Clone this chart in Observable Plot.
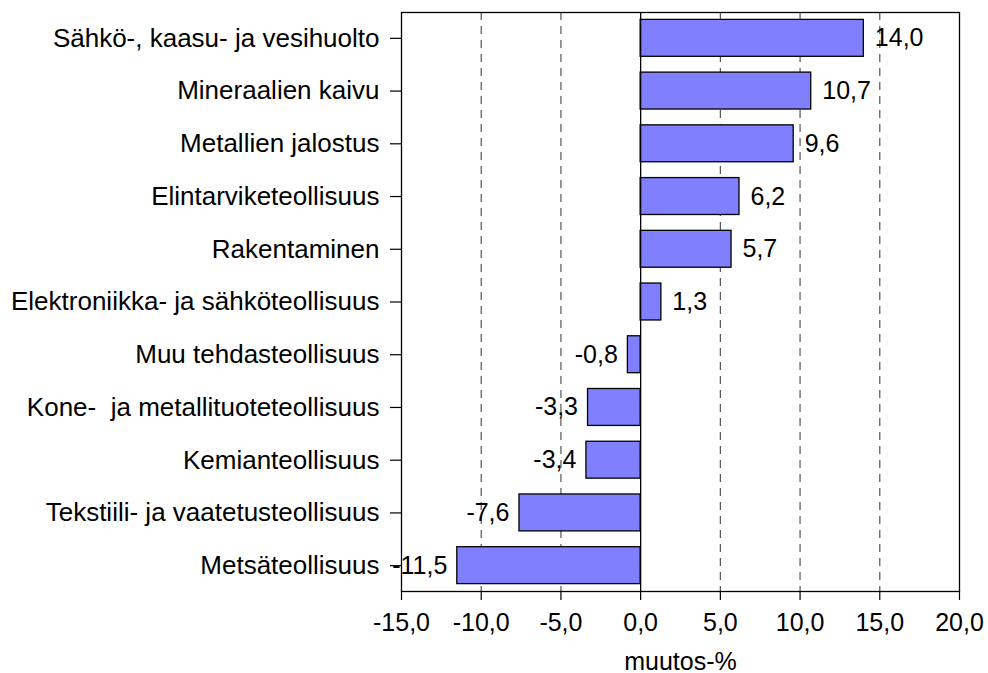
<!DOCTYPE html>
<html><head><meta charset="utf-8">
<script src="https://cdn.jsdelivr.net/npm/d3@7"></script>
<script src="https://cdn.jsdelivr.net/npm/@observablehq/plot@0.6"></script>
<style>
body{margin:0;background:#fff;}
svg{font-family:"Liberation Sans",Arial,sans-serif;}
</style>
</head><body>
<div id="chart"></div>
<script>
const categories = [
  "Sähkö-, kaasu- ja vesihuolto",
  "Mineraalien kaivu",
  "Metallien jalostus",
  "Elintarviketeollisuus",
  "Rakentaminen",
  "Elektroniikka- ja sähköteollisuus",
  "Muu tehdasteollisuus",
  "Kone-  ja metallituoteteollisuus",
  "Kemianteollisuus",
  "Tekstiili- ja vaatetusteollisuus",
  "Metsäteollisuus"
];
const values = [14.0, 10.7, 9.6, 6.2, 5.7, 1.3, -0.8, -3.3, -3.4, -7.6, -11.5];
const xTicks = [-15, -10, -5, 0, 5, 10, 15, 20];
const gridTicks = [-10, -5, 5, 10, 15];
const xLabel = "muutos-%";

const data = categories.map((c, i) => ({cat: c, value: values[i]}));
const fmt = v => v.toFixed(1).replace(".", ",");
const FS = 25;

const chart = Plot.plot({
  width: 988,
  height: 673,
  marginLeft: 401,
  marginRight: 29,
  marginTop: 12,
  marginBottom: 82,
  style: {fontSize: FS + "px", fontFamily: "'Liberation Sans', Arial, sans-serif", color: "black", background: "white"},
  x: {domain: [-15, 20], label: null},
  y: {domain: categories, paddingInner: 0.3, paddingOuter: 0.14, round: false, label: null},
  marks: [
    Plot.ruleX(gridTicks, {stroke: "#555", strokeWidth: 1.2, strokeDasharray: "8,6"}),
    Plot.barX(data, {x: "value", y: "cat", fill: "#8080FF", stroke: "black", strokeWidth: 1.3}),
    Plot.ruleX([0], {stroke: "black", strokeWidth: 1.3}),
    Plot.frame({stroke: "black", strokeWidth: 1.3}),
    Plot.text(data.filter(d => d.value >= 0), {x: "value", y: "cat", text: d => fmt(d.value), textAnchor: "start", dx: 11, fontSize: FS, fill: "black"}),
    Plot.text(data.filter(d => d.value < 0), {x: "value", y: "cat", text: d => fmt(d.value), textAnchor: "end", dx: -10, fontSize: FS, fill: "black"}),
    Plot.axisX({ticks: xTicks, tickFormat: fmt, tickSize: 9, tickPadding: 13, fontSize: FS, label: null, strokeWidth: 1.2}),
    Plot.axisY({tickSize: 11, tickPadding: 11, fontSize: 26, label: null, strokeWidth: 1.2}),
    Plot.text([xLabel], {frameAnchor: "bottom", lineAnchor: "middle", dy: 70, fontSize: FS, fill: "black"})
  ]
});
document.getElementById("chart").appendChild(chart);
</script>
</body></html>
